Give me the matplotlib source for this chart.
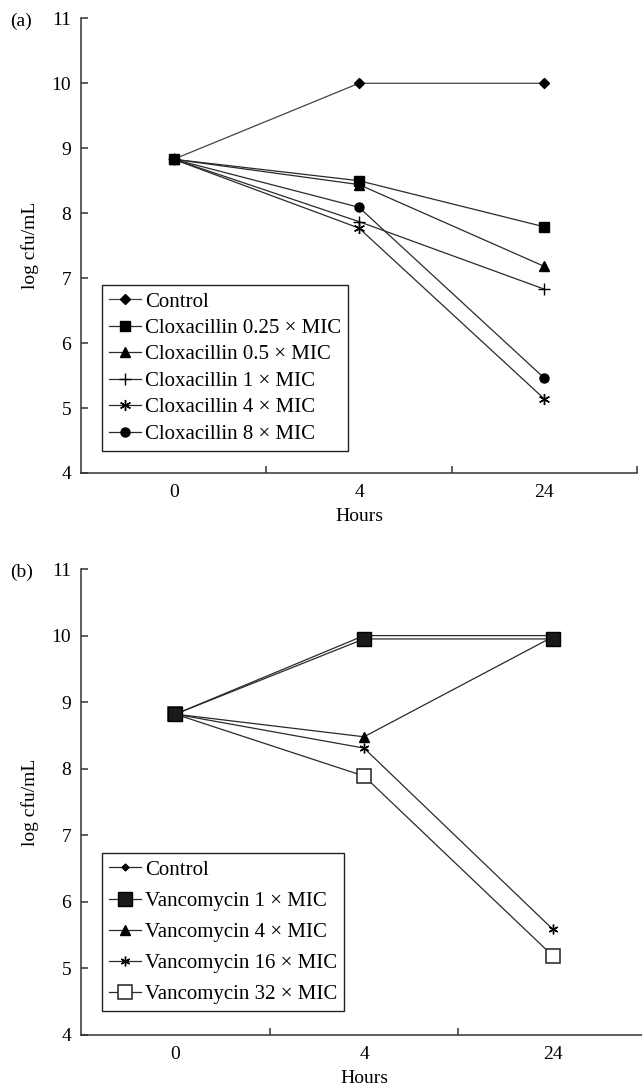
import matplotlib
matplotlib.use('agg')
import matplotlib.pyplot as plt
from matplotlib.ticker import FixedLocator, NullLocator

# time points (categorical)
hours = ['0', '4', '24']

# panel (a) - cloxacillin
clox_labels = ['Control', 'Cloxacillin 0.25 × MIC', 'Cloxacillin 0.5 × MIC',
               'Cloxacillin 1 × MIC', 'Cloxacillin 4 × MIC', 'Cloxacillin 8 × MIC']
control_a = [8.83, 10.0, 10.0]
clox_025 = [8.83, 8.50, 7.79]
clox_05 = [8.83, 8.44, 7.18]
clox_1 = [8.83, 7.87, 6.83]
clox_4 = [8.83, 7.77, 5.14]
clox_8 = [8.83, 8.09, 5.46]

# panel (b) - vancomycin
vanc_labels = ['Control', 'Vancomycin 1 × MIC', 'Vancomycin 4 × MIC',
               'Vancomycin 16 × MIC', 'Vancomycin 32 × MIC']
control_b = [8.82, 10.0, 10.0]
vanc_1 = [8.82, 9.95, 9.95]
vanc_4 = [8.82, 8.48, 9.98]
vanc_16 = [8.82, 8.31, 5.59]
vanc_32 = [8.82, 7.89, 5.19]

plt.rcParams['font.family'] = ['Liberation Serif', 'DejaVu Serif']
plt.rcParams['font.size'] = 14

LINE = '#2a2a2a'
AXC = '#333333'


def style_axes(ax):
    x = list(range(len(hours)))
    ax.set_xlim(-0.5, len(hours) - 0.5)
    ax.set_ylim(4, 11)
    ax.spines['top'].set_visible(False)
    ax.spines['right'].set_visible(False)
    for s in ['left', 'bottom']:
        ax.spines[s].set_color(AXC)
        ax.spines[s].set_linewidth(1.1)
    ax.set_xticks(x)
    ax.set_xticklabels(hours)
    ax.xaxis.set_minor_locator(FixedLocator([i + 0.5 for i in x]))
    ax.tick_params(axis='x', which='major', length=0, pad=8)
    ax.tick_params(axis='x', which='minor', direction='in', length=5, width=1.1, color=AXC)
    ax.set_yticks(range(4, 12))
    ax.yaxis.set_minor_locator(NullLocator())
    ax.tick_params(axis='y', direction='in', length=5, width=1.1, color=AXC, pad=7)
    ax.set_xlabel('Hours', labelpad=5)
    ax.set_ylabel('log cfu/mL', labelpad=9)


def add_legend(ax, labels, anchor, spacing):
    leg = ax.legend(labels, loc='lower left', bbox_to_anchor=anchor,
                    borderaxespad=0, fancybox=False, edgecolor='#222222',
                    handlelength=1.5, handletextpad=0.2, labelspacing=spacing,
                    borderpad=0.35, framealpha=1, fontsize=15)
    leg.get_frame().set_linewidth(1.0)
    return leg


fig = plt.figure(figsize=(6.42, 10.92), dpi=100)

# ---- panel (a)
ax1 = fig.add_axes([0.1262, 0.5669, 0.866, 0.4163])
x = range(len(hours))
ax1.plot(x, control_a, color='#444444', lw=0.9, marker='D', ms=5, mfc='k', mec='k')
ax1.plot(x, clox_025, color=LINE, lw=0.9, marker='s', ms=6.5, mfc='k', mec='k', zorder=3)
ax1.plot(x, clox_05, color=LINE, lw=0.9, marker='^', ms=7, mfc='k', mec='k')
ax1.plot(x, clox_1, color=LINE, lw=0.9, marker='+', ms=8, mew=1, mec='k')
ax1.plot(x, clox_4, color=LINE, lw=0.9, marker=(6, 2, 0), ms=8, mew=1, mec='k')
ax1.plot(x, clox_8, color=LINE, lw=0.9, marker='o', ms=6.5, mfc='k', mec='k')
style_axes(ax1)
add_legend(ax1, clox_labels, (0.038, 0.048), 0.33)
fig.text(0.016, 0.980, '(a)', va='center', ha='left', fontsize=14)

# ---- panel (b)
ax2 = fig.add_axes([0.1262, 0.0522, 0.8816, 0.4267])
ax2.plot(x, control_b, color=LINE, lw=0.9, marker='D', ms=3.5, mfc='k', mec='k')
ax2.plot(x, vanc_1, color=LINE, lw=0.9, marker='s', ms=9.5, mfc='#1a1a1a', mec='k', zorder=3)
ax2.plot(x, vanc_4, color=LINE, lw=0.9, marker='^', ms=6.5, mfc='k', mec='k')
ax2.plot(x, vanc_16, color=LINE, lw=0.9, marker=(6, 2, 0), ms=7, mew=1, mec='k')
ax2.plot(x, vanc_32, color=LINE, lw=0.9, marker='s', ms=9.5, mfc='white', mec='#222222', mew=1.1)
style_axes(ax2)
add_legend(ax2, vanc_labels, (0.037, 0.051), 0.55)
fig.text(0.016, 0.476, '(b)', va='center', ha='left', fontsize=14)

fig.savefig('out.png', dpi=100)
plt.close(fig)
